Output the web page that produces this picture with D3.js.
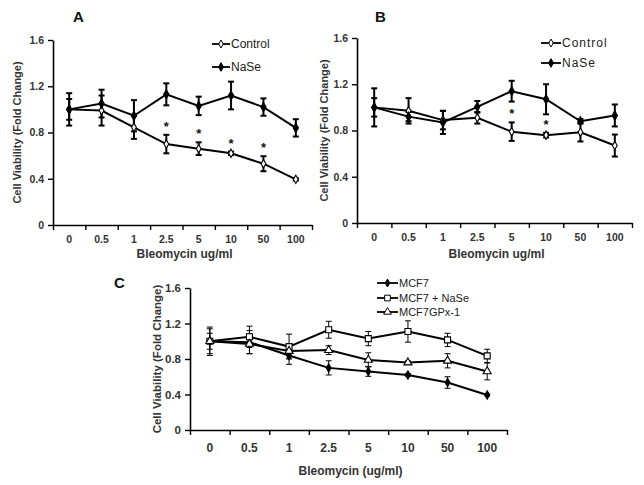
<!DOCTYPE html>
<html><head><meta charset="utf-8">
<script src="https://cdn.jsdelivr.net/npm/d3@7"></script>
<style>
body{margin:0;background:#fff;}
svg text{font-family:Arial,"Liberation Sans",sans-serif;}
</style></head>
<body><svg id="c" width="644" height="485"></svg>
<script>
// ---------- data ----------
const doses = ["0","0.5","1","2.5","5","10","50","100"];
const yTicks = [0, 0.4, 0.8, 1.2, 1.6];

// Panel A
const controlA    = [1.00, 0.99, 0.845, 0.70, 0.66, 0.62, 0.53, 0.395];
const controlAErr = [0.09, 0.13, 0.10, 0.08, 0.055, 0.015, 0.065, 0.01];
const naseA       = [1.00, 1.05, 0.945, 1.13, 1.03, 1.12, 1.02, 0.84];
const naseAErr    = [0.14, 0.12, 0.135, 0.095, 0.08, 0.12, 0.075, 0.075];
const starsA      = ["2.5","5","10","50"];

// Panel B
const controlB    = [1.00, 0.97, 0.89, 0.91, 0.79, 0.76, 0.785, 0.67];
const controlBErr = [0.165, 0.11, 0.08, 0.05, 0.08, 0.02, 0.08, 0.095];
const naseB       = [1.00, 0.92, 0.87, 1.005, 1.14, 1.07, 0.88, 0.93];
const naseBErr    = [0.08, 0.04, 0.10, 0.05, 0.09, 0.13, 0.02, 0.095];
const starsB      = ["5","10"];

// Panel C
const mcf7        = [1.00, 0.99, 0.84, 0.70, 0.66, 0.62, 0.535, 0.395];
const mcf7Err     = [0.09, 0.13, 0.10, 0.08, 0.055, 0.015, 0.065, 0.01];
const mcf7Nase    = [1.00, 1.05, 0.94, 1.13, 1.03, 1.11, 1.015, 0.835];
const mcf7NaseErr = [0.16, 0.12, 0.14, 0.095, 0.08, 0.12, 0.075, 0.075];
const mcf7Gpx     = [1.00, 0.97, 0.89, 0.90, 0.79, 0.76, 0.78, 0.66];
const mcf7GpxErr  = [0.14, 0.11, 0.08, 0.05, 0.08, 0.02, 0.08, 0.095];

// ---------- drawing ----------
const svg = d3.select("#c");
const sym = {
  diamondFilled: {type: d3.symbolDiamond, fill: "#000"},
  diamondOpen:   {type: d3.symbolDiamond, fill: "#fff"},
  squareOpen:    {type: d3.symbolSquare,  fill: "#fff"},
  triangleOpen:  {type: d3.symbolTriangle, fill: "#fff"}
};

function panel(cfg) {
  const g = svg.append("g");
  const xb = d3.scaleBand().domain(doses).range([cfg.x0, cfg.x1]);
  const xi = d3.scaleLinear().domain([0, doses.length]).range([cfg.x0, cfg.x1]);
  const y = d3.scaleLinear().domain([0, 1.6]).range([cfg.y0, cfg.y1]);
  const cx = d => xb(d) + xb.bandwidth() / 2;

  const ya = g.append("g").attr("transform", `translate(${cfg.x0},0)`)
    .call(d3.axisLeft(y).tickValues(yTicks).tickSize(5).tickSizeOuter(0).tickPadding(4)
      .tickFormat(d => d === 0 ? "0" : d3.format(".1f")(d)));
  const xa = g.append("g").attr("transform", `translate(0,${cfg.y0})`)
    .call(d3.axisBottom(xi).tickValues(d3.range(doses.length + 1)).tickSize(5).tickSizeOuter(0).tickFormat(""));
  const xl = g.append("g").attr("transform", `translate(0,${cfg.y0})`)
    .call(d3.axisBottom(xb).tickSize(0).tickPadding(cfg.xPad));
  xl.select(".domain").remove();
  [ya, xa, xl].forEach(a => {
    a.select(".domain").attr("stroke", "#000").attr("stroke-width", 1.6);
    a.selectAll(".tick line").attr("stroke", "#000").attr("stroke-width", 1.4);
    a.selectAll(".tick text").attr("font-size", cfg.tickFs).attr("font-weight", "bold").attr("fill", "#333");
  });
  ya.selectAll(".tick text").attr("font-size", cfg.yTickFs);

  g.append("text").attr("transform", `translate(${cfg.yTitleX},${(cfg.y0 + cfg.y1) / 2}) rotate(-90)`)
    .attr("text-anchor", "middle").attr("dominant-baseline", "middle")
    .attr("font-size", cfg.yTitleFs).attr("font-weight", "bold").attr("fill", "#333").text("Cell Viability (Fold Change)");
  g.append("text").attr("x", (cfg.x0 + cfg.x1) / 2 + 2).attr("y", cfg.xTitleY)
    .attr("text-anchor", "middle").attr("font-size", 12).attr("font-weight", "bold").attr("fill", "#333")
    .text(cfg.xTitle);
  g.append("text").attr("x", cfg.letter[0]).attr("y", cfg.letter[1])
    .attr("font-size", 15).attr("font-weight", "bold").attr("fill", "#111").text(cfg.letterText);

  const line = d3.line().x((d, i) => cx(doses[i])).y(d => y(d));

  cfg.series.forEach(s => {
    const eb = g.append("g").attr("stroke", "#000").attr("stroke-width", cfg.errW);
    doses.forEach((d, i) => {
      const x = cx(d), lo = y(s.values[i] - s.err[i]), hi = y(s.values[i] + s.err[i]);
      eb.append("line").attr("x1", x).attr("x2", x).attr("y1", lo).attr("y2", hi);
      eb.append("line").attr("x1", x - 3).attr("x2", x + 3).attr("y1", lo).attr("y2", lo);
      eb.append("line").attr("x1", x - 3).attr("x2", x + 3).attr("y1", hi).attr("y2", hi);
    });
  });
  cfg.series.forEach(s => {
    g.append("path").datum(s.values).attr("d", line)
      .attr("fill", "none").attr("stroke", "#000").attr("stroke-width", 2);
  });
  cfg.series.forEach(s => {
    const m = sym[s.marker];
    g.selectAll(null).data(s.values).enter().append("path")
      .attr("transform", (d, i) => `translate(${cx(doses[i])},${y(d)})`)
      .attr("d", d3.symbol().type(m.type).size(s.size))
      .attr("fill", m.fill).attr("stroke", "#000").attr("stroke-width", 1.1);
  });

  if (cfg.stars) {
    const s = cfg.series[0];
    cfg.stars.forEach(d => {
      const i = doses.indexOf(d);
      g.append("text").attr("x", cx(d)).attr("y", y(s.values[i] + s.err[i]) - 4)
        .attr("text-anchor", "middle").attr("font-size", 13).attr("font-weight", "bold")
        .attr("fill", "#111").text("*");
    });
  }

  const lg = g.append("g");
  cfg.series.forEach((s, k) => {
    const ly = cfg.legend.y[k];
    lg.append("line").attr("x1", cfg.legend.x).attr("x2", cfg.legend.x + cfg.legend.len)
      .attr("y1", ly).attr("y2", ly).attr("stroke", "#000").attr("stroke-width", 1.8);
    const m = sym[s.marker];
    lg.append("path").attr("transform", `translate(${cfg.legend.x + cfg.legend.len / 2},${ly})`)
      .attr("d", d3.symbol().type(m.type).size(s.size * 0.9))
      .attr("fill", m.fill).attr("stroke", "#000").attr("stroke-width", 1);
    lg.append("text").attr("x", cfg.legend.x + cfg.legend.len + 1).attr("y", ly)
      .attr("dominant-baseline", "central").attr("font-size", cfg.legend.fs)
      .attr("letter-spacing", cfg.legend.ls || 0).attr("fill", "#222").text(s.name);
  });
}

panel({
  x0: 53, x1: 312, y0: 225, y1: 40, xPad: 11, tickFs: 10.5, yTickFs: 10.5, yTitleFs: 11,
  yTitleX: 18, xTitleY: 258, xTitle: "Bleomycin ug/ml",
  letter: [73, 22], letterText: "A", errW: 2,
  series: [
    {name: "Control", values: controlA, err: controlAErr, marker: "diamondOpen", size: 20},
    {name: "NaSe", values: naseA, err: naseAErr, marker: "diamondFilled", size: 24}
  ],
  stars: starsA,
  legend: {x: 212, len: 18, y: [44, 67], fs: 12}
});

panel({
  x0: 357, x1: 632, y0: 223, y1: 38, xPad: 11, tickFs: 10.5, yTickFs: 10.5, yTitleFs: 11,
  yTitleX: 325, xTitleY: 258, xTitle: "Bleomycin ug/ml",
  letter: [375, 22], letterText: "B", errW: 2,
  series: [
    {name: "Control", values: controlB, err: controlBErr, marker: "diamondOpen", size: 20},
    {name: "NaSe", values: naseB, err: naseBErr, marker: "diamondFilled", size: 24}
  ],
  stars: starsB,
  legend: {x: 541, len: 20, y: [43, 63], fs: 12, ls: 1}
});

panel({
  x0: 190, x1: 507, y0: 430, y1: 288, xPad: 13, tickFs: 12, yTickFs: 11.5, yTitleFs: 11.5,
  yTitleX: 158, xTitleY: 475, xTitle: "Bleomycin (ug/ml)",
  letter: [114, 288], letterText: "C", errW: 1,
  series: [
    {name: "MCF7", values: mcf7, err: mcf7Err, marker: "diamondFilled", size: 20},
    {name: " MCF7 + NaSe", values: mcf7Nase, err: mcf7NaseErr, marker: "squareOpen", size: 36},
    {name: "MCF7GPx-1", values: mcf7Gpx, err: mcf7GpxErr, marker: "triangleOpen", size: 28}
  ],
  legend: {x: 377, len: 21, y: [283, 298, 312], fs: 11}
});
</script></body></html>
